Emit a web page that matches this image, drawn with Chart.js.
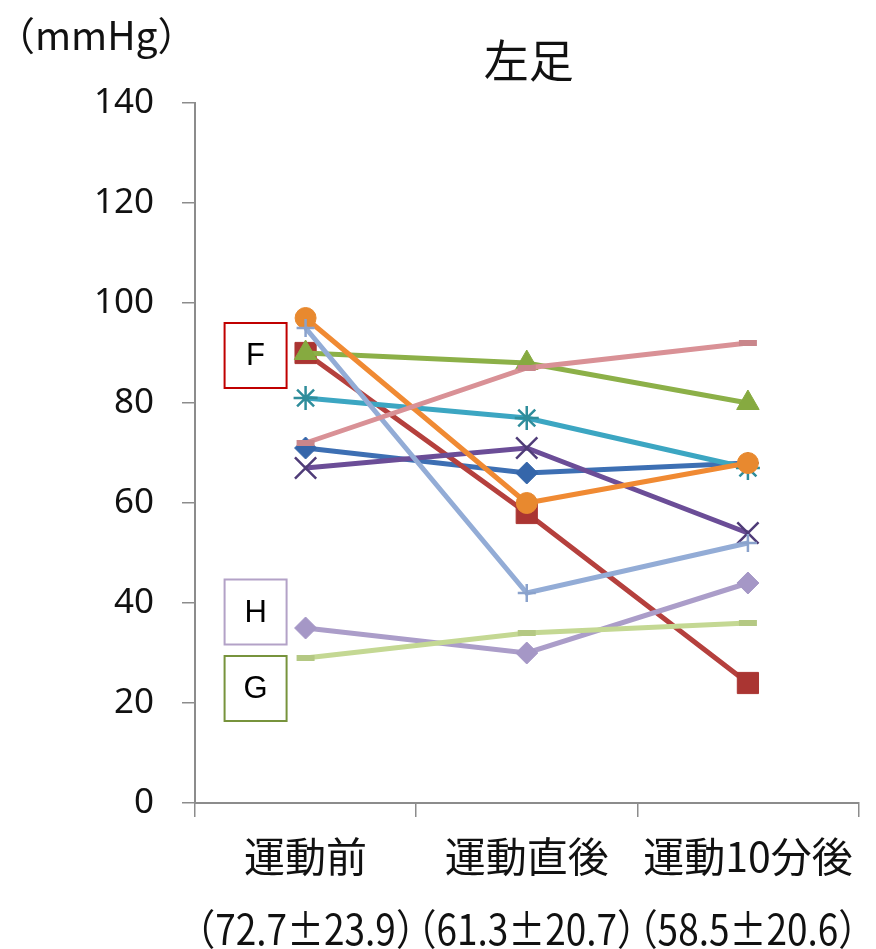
<!DOCTYPE html>
<html>
<head>
<meta charset="utf-8">
<script src="https://cdn.jsdelivr.net/npm/chart.js@4.4.1/dist/chart.umd.min.js"></script>
<style>
  html, body { margin: 0; padding: 0; background: #ffffff; }
  #wrap { width: 876px; height: 949px; }
</style>
</head>
<body>
<div id="wrap"><canvas id="c" width="876" height="949"></canvas></div>
<script>
// Measurement times on the x axis
const categories = ['運動前', '運動直後', '運動10分後'];
// Group mean ± SD shown under each time point
const summaryLabels = ['（72.7±23.9）', '（61.3±20.7）', '（58.5±20.6）'];
// Left-axis ticks (mmHg)
const yTicks = [0, 20, 40, 60, 80, 100, 120, 140];

// Left-foot pressure per subject (mmHg)
const subjectA = [71, 66, 68];
const subjectB = [90, 58, 24];
const subjectC = [90, 88, 80];
const subjectD = [67, 71, 54];
const subjectE = [81, 77, 67];
const subjectF = [97, 60, 68];
const subjectG = [95, 42, 52];
const subjectH = [72, 87, 92];
const subjectI = [35, 30, 44];
const subjectJ = [29, 34, 36];

// Callout boxes: letter, value level at the first time point, border colour
const calloutLetters = ['F', 'H', 'G'];
const calloutLevels = [89.5, 38.2, 22.9];
const calloutColors = ['#c00000', '#b3a2c7', '#77933c'];

const FONT_CJK = "'Noto Sans CJK JP', 'Noto Sans', sans-serif";
const FONT_NUM = "'Noto Sans', 'DejaVu Sans', sans-serif";

function series(data, color, markColor, style, radius, borderW) {
  return {
    data: data,
    borderColor: color,
    backgroundColor: markColor,
    borderWidth: 5,
    pointStyle: style,
    pointRadius: radius,
    pointHoverRadius: radius,
    pointBackgroundColor: markColor,
    pointBorderColor: markColor,
    pointBorderWidth: borderW,
    tension: 0,
    fill: false
  };
}

const datasets = [
  series(subjectA, '#3d6fb3', '#3566aa', 'rectRot', 11, 1),
  series(subjectB, '#b5403d', '#aa3532', 'rect', 15, 1),
  series(subjectC, '#8cb048', '#86aa40', 'triangle', 13, 1),
  series(subjectD, '#6b4d97', '#4f3c78', 'crossRot', 15, 2.5),
  series(subjectE, '#3ca6c2', '#2f8d9b', 'star', 12, 2.5),
  series(subjectF, '#f08a33', '#e8892f', 'circle', 10.5, 1),
  series(subjectG, '#93acd6', '#8aa2cc', 'cross', 9, 2.5),
  series(subjectH, '#d99196', '#c9868b', 'line', 9, 6),
  series(subjectI, '#ab9dc9', '#a597c6', 'rectRot', 11, 1),
  series(subjectJ, '#c4d893', '#b4c883', 'line', 9, 6)
];
// later subjects are painted over earlier ones
datasets.forEach((d, i) => { d.order = datasets.length - i; });

const extras = {
  id: 'extras',
  afterDraw(chart) {
    const ctx = chart.ctx;
    const area = chart.chartArea;
    const xs = chart.scales.x;
    ctx.save();
    ctx.fillStyle = '#111111';
    // chart title
    ctx.font = '45px ' + FONT_CJK;
    ctx.textAlign = 'center';
    ctx.textBaseline = 'middle';
    ctx.fillText('左足', (area.left + area.right) / 2 + 2, 61);
    // unit label
    ctx.font = '39px ' + FONT_CJK;
    ctx.textAlign = 'left';
    ctx.fillText('（mmHg）', -4, 35);
    // mean ± SD row, condensed
    ctx.font = '42px ' + FONT_CJK;
    ctx.textAlign = 'center';
    summaryLabels.forEach((t, i) => {
      const cx = xs.getPixelForValue(i);
      ctx.save();
      ctx.translate(cx, 929);
      ctx.scale(0.88, 1);
      ctx.fillText(t, 0, 0);
      ctx.restore();
    });
    ctx.restore();
  },
  afterDatasetsDraw(chart) {
    const ctx = chart.ctx;
    const xs = chart.scales.x;
    const ys = chart.scales.y;
    ctx.save();
    calloutLetters.forEach((letter, i) => {
      const cx = xs.getPixelForValue(0) - 50;
      const cy = ys.getPixelForValue(calloutLevels[i]);
      const w = 62, h = 65;
      ctx.fillStyle = '#ffffff';
      ctx.fillRect(cx - w / 2, cy - h / 2, w, h);
      ctx.strokeStyle = calloutColors[i];
      ctx.lineWidth = 2;
      ctx.strokeRect(cx - w / 2, cy - h / 2, w, h);
      ctx.fillStyle = '#000000';
      ctx.font = '31px "Liberation Sans", Arial, sans-serif';
      ctx.textAlign = 'center';
      ctx.textBaseline = 'middle';
      ctx.fillText(letter, cx, cy + 1);
    });
    ctx.restore();
  }
};

new Chart(document.getElementById('c'), {
  type: 'line',
  data: { labels: categories, datasets: datasets },
  plugins: [extras],
  options: {
    responsive: false,
    animation: false,
    devicePixelRatio: 1,
    layout: { padding: { top: 103, right: 12, left: 0, bottom: 0 } },
    plugins: {
      legend: { display: false },
      title: { display: false },
      tooltip: { enabled: false }
    },
    scales: {
      x: {
        type: 'category',
        offset: true,
        grid: { offset: true, drawOnChartArea: false, drawTicks: true, tickLength: 14, color: '#8c8c8c', lineWidth: 1.5 },
        border: { display: true, color: '#8c8c8c', width: 2 },
        ticks: { font: { family: FONT_CJK, size: 41 }, color: '#111111', padding: 15, maxRotation: 0, minRotation: 0, autoSkip: false },
        afterFit(s) { s.height = 146; }
      },
      y: {
        min: 0,
        max: 140,
        afterBuildTicks(s) { s.ticks = yTicks.map(v => ({ value: v })); },
        ticks: { font: { family: FONT_NUM, size: 35 }, color: '#111111', padding: 28 },
        grid: { drawOnChartArea: false, drawTicks: true, tickLength: 13, color: '#8c8c8c', lineWidth: 1.5 },
        border: { display: true, color: '#8c8c8c', width: 2 },
        afterFit(s) { s.width = 195; }
      }
    }
  }
});
</script>
</body>
</html>
